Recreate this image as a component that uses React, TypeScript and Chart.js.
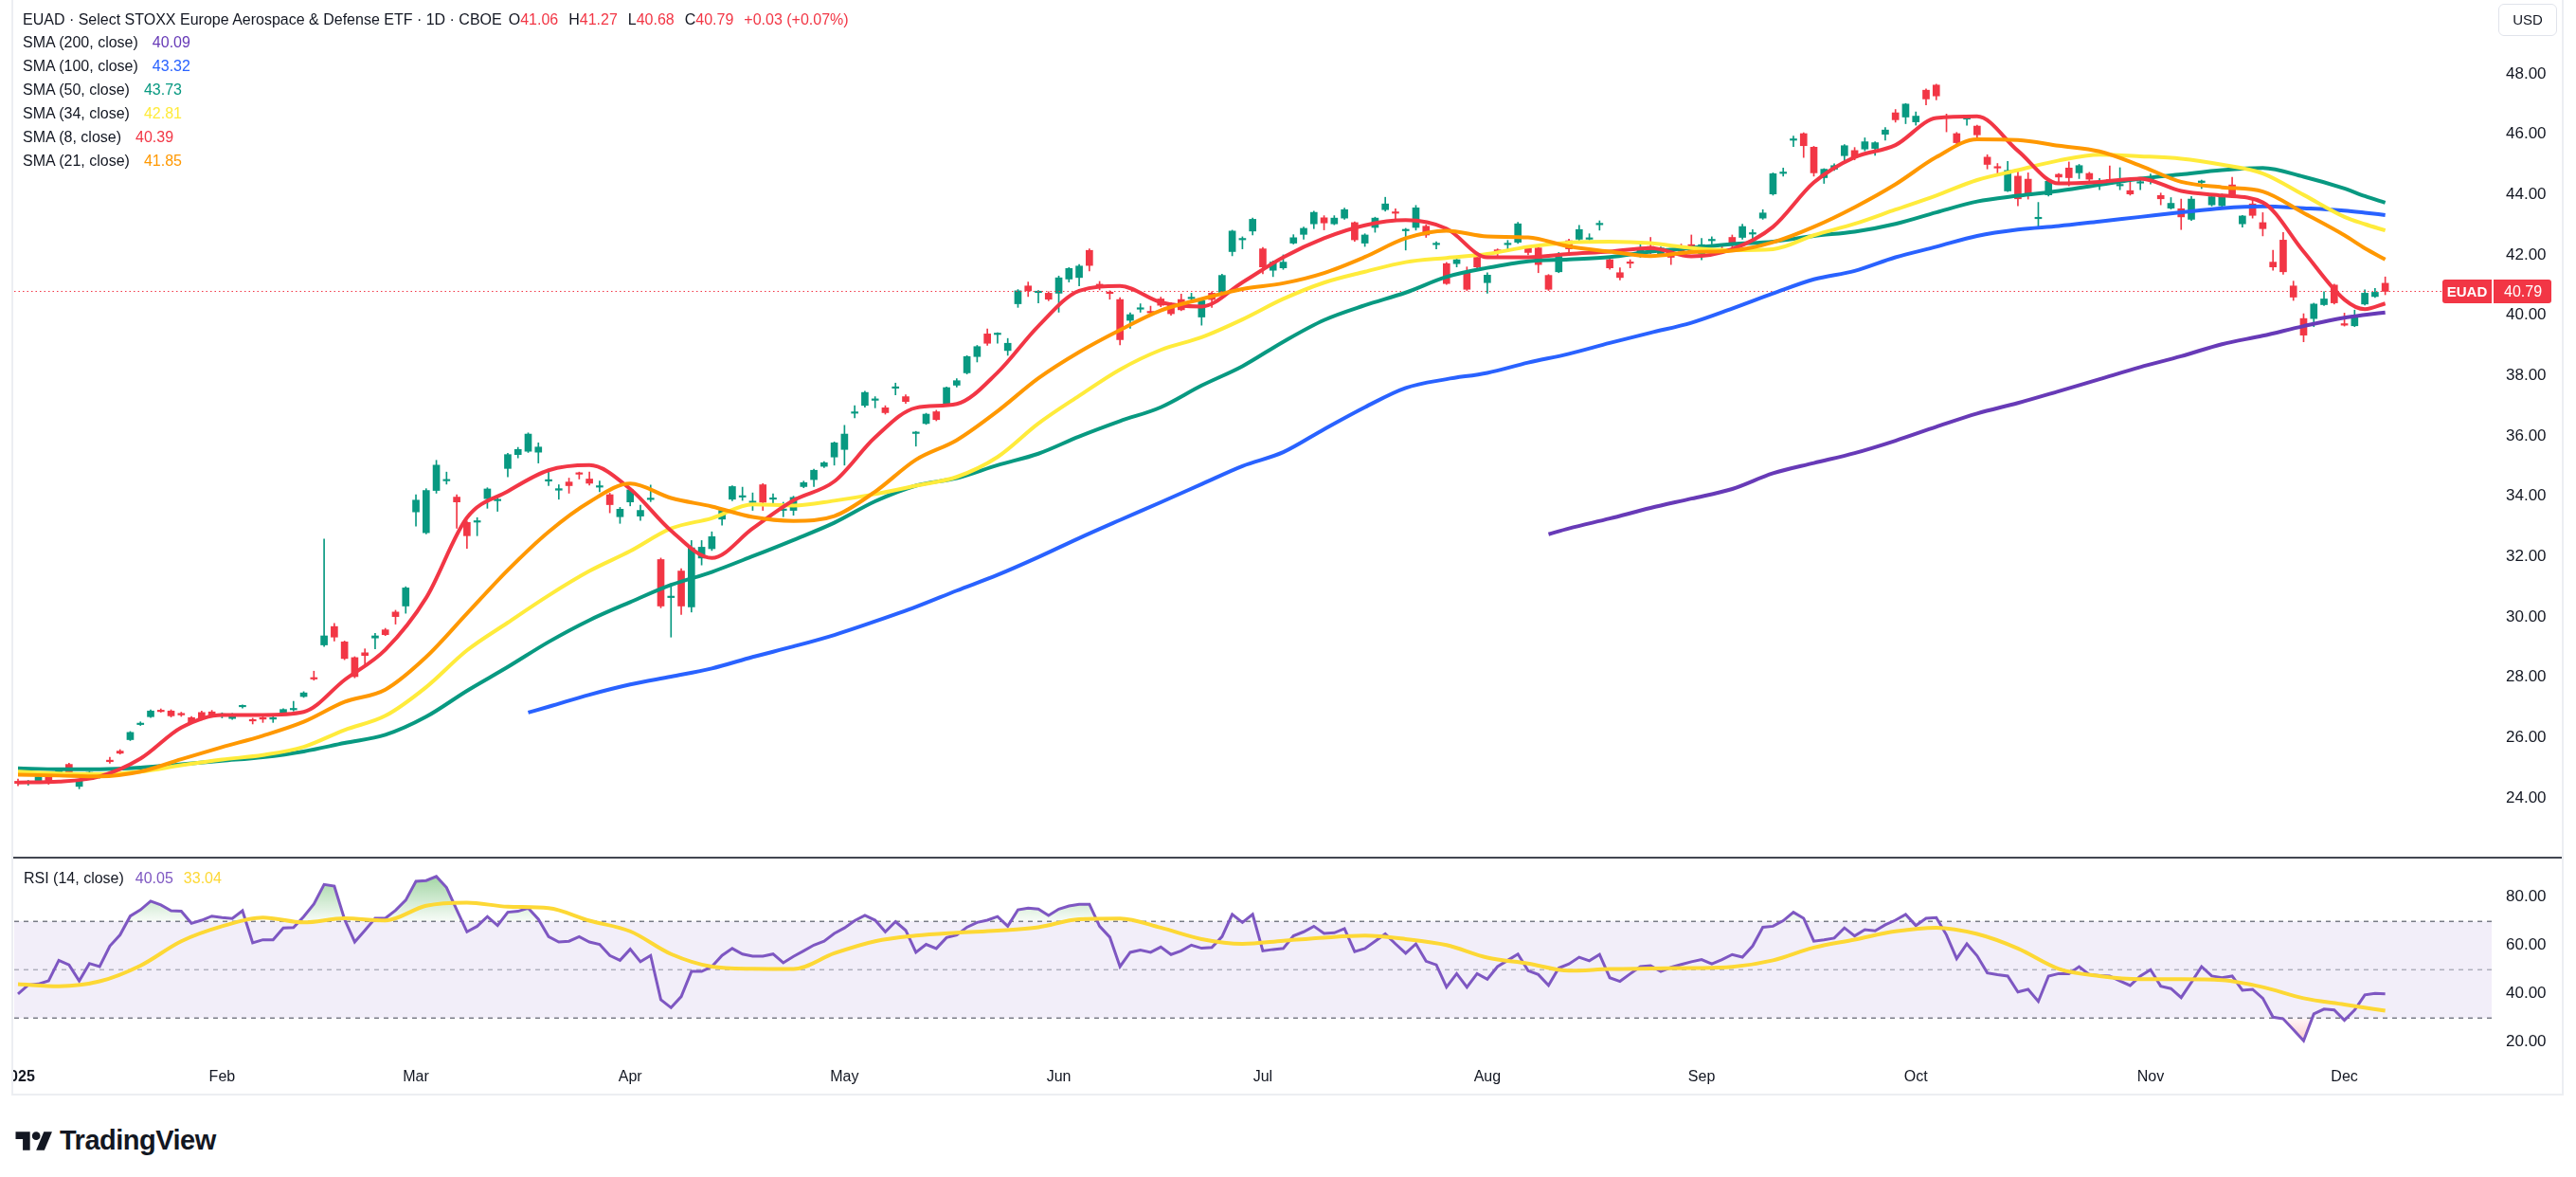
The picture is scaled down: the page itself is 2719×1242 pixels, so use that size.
import React, { useEffect, useRef } from "react";
import { Chart, registerables } from "chart.js";

Chart.register(...registerables);

const FONT = "'Liberation Sans', Arial, sans-serif";
Chart.defaults.font.family = FONT;

// ---------------- data ----------------
const SYMBOL = "EUAD";
const TITLE = "EUAD · Select STOXX Europe Aerospace & Defense ETF · 1D · CBOE";
const MONTH_TICK_INDEX = [0, 20, 39, 60, 81, 102, 122, 144, 165, 186, 209, 228];
const MONTH_TICK_LABELS = ["2025", "Feb", "Mar", "Apr", "May", "Jun", "Jul", "Aug", "Sep", "Oct", "Nov", "Dec"];
const PRICE_TICKS = [24, 26, 28, 30, 32, 34, 36, 38, 40, 42, 44, 46, 48];
const RSI_TICKS = [20, 40, 60, 80];
const RSI_LEVELS = [70, 50, 30];

const OPEN = [
  24.55, 24.48, 24.55, 24.70, 24.85, 25.11, 24.38, 24.80, 24.70, 25.25,
  25.55, 25.93, 26.43, 26.69, 26.90, 26.88, 26.80, 26.66, 26.83, 26.85,
  26.74, 26.63, 27.02, 26.59, 26.65, 26.61, 26.80, 26.92, 27.36, 27.98,
  29.07, 29.68, 29.17, 28.65, 28.81, 29.30, 29.57, 30.16, 30.36, 33.48,
  32.79, 34.19, 34.51, 33.97, 33.13, 33.14, 33.92, 33.85, 34.92, 35.38,
  35.49, 35.46, 34.50, 34.20, 34.47, 34.77, 34.57, 34.30, 34.05, 33.32,
  33.81, 33.34, 33.89, 31.90, 30.64, 31.52, 30.33, 31.95, 32.26, 33.24,
  33.90, 33.97, 33.79, 34.38, 33.90, 33.53, 33.53, 34.32, 34.55, 34.99,
  35.30, 35.55, 36.75, 37.01, 37.18, 36.93, 37.58, 37.30, 36.08, 36.41,
  36.80, 37.04, 37.68, 38.09, 38.63, 39.38, 39.36, 38.83, 40.38, 40.97,
  40.75, 40.73, 40.73, 41.20, 41.25, 42.15, 41.02, 40.76, 40.52, 39.83,
  40.20, 40.12, 40.54, 40.37, 40.52, 40.55, 39.94, 40.73, 40.76, 42.11,
  42.50, 42.79, 42.20, 41.49, 41.57, 42.39, 42.68, 43.03, 43.23, 43.03,
  43.22, 43.07, 42.39, 42.91, 43.50, 43.41, 42.80, 42.91, 42.95, 42.34,
  41.71, 41.71, 41.43, 41.92, 41.08, 42.16, 42.34, 42.42, 42.23, 42.23,
  41.32, 41.44, 42.47, 42.52, 42.52, 43.00, 41.84, 41.41, 41.76, 41.95,
  42.28, 41.99, 42.04, 42.16, 42.34, 42.04, 42.47, 42.16, 42.58, 42.58,
  42.69, 43.22, 44.02, 44.70, 45.80, 46.02, 45.57, 44.56, 44.84, 45.29,
  45.46, 45.51, 45.53, 46.00, 46.71, 46.57, 46.41, 47.46, 47.63, 46.58,
  46.02, 46.50, 46.27, 45.24, 44.92, 44.12, 44.61, 44.51, 43.20, 43.99,
  44.67, 44.88, 44.72, 44.70, 44.39, 44.49, 44.29, 44.13, 44.38, 44.50,
  43.97, 43.55, 43.53, 43.18, 44.40, 43.66, 43.63, 44.32, 43.03, 43.69,
  43.07, 41.76, 42.49, 40.97, 39.89, 39.89, 40.35, 41.00, 39.72, 39.65,
  40.37, 40.62, 41.06,
];
const HIGH = [
  24.62, 24.58, 24.78, 24.75, 24.95, 25.15, 24.62, 24.88, 24.80, 25.35,
  25.60, 26.20, 26.52, 26.92, 26.95, 26.92, 26.84, 26.70, 26.88, 26.90,
  26.82, 26.80, 27.08, 26.64, 26.70, 26.70, 26.96, 27.20, 27.52, 28.20,
  32.58, 29.78, 29.20, 28.68, 28.94, 29.45, 29.62, 30.22, 31.00, 34.05,
  34.25, 35.19, 34.80, 34.05, 33.18, 33.29, 34.28, 34.00, 35.42, 35.62,
  36.10, 35.77, 34.80, 34.38, 34.60, 34.80, 34.80, 34.50, 34.10, 33.63,
  34.25, 33.70, 34.37, 31.95, 31.10, 31.60, 32.53, 32.53, 32.82, 33.60,
  34.35, 34.30, 34.11, 34.42, 34.08, 33.80, 34.00, 34.50, 34.90, 35.15,
  35.80, 36.35, 37.00, 37.48, 37.30, 37.00, 37.75, 37.36, 36.15, 36.75,
  36.85, 37.62, 37.90, 38.66, 39.00, 39.55, 39.42, 39.23, 40.85, 41.10,
  40.82, 40.78, 41.30, 41.58, 41.68, 42.20, 41.12, 40.81, 40.58, 40.08,
  40.38, 40.30, 40.60, 40.42, 40.70, 40.73, 40.52, 40.78, 41.36, 42.82,
  42.60, 43.22, 42.25, 41.80, 42.00, 42.67, 42.92, 43.45, 43.30, 43.30,
  43.55, 43.10, 42.70, 43.25, 43.91, 43.53, 42.88, 43.64, 43.00, 42.44,
  41.75, 41.92, 41.60, 41.96, 41.41, 42.20, 42.48, 43.08, 42.30, 42.28,
  41.35, 42.08, 42.52, 42.98, 42.70, 43.13, 41.88, 41.57, 41.84, 42.36,
  42.58, 42.26, 42.08, 42.36, 42.66, 42.55, 42.60, 42.27, 42.66, 43.02,
  42.84, 43.50, 44.72, 44.88, 45.94, 46.05, 45.60, 44.86, 45.02, 45.66,
  45.56, 45.88, 45.75, 46.22, 46.82, 47.02, 46.74, 47.50, 47.66, 46.67,
  46.06, 46.55, 46.30, 45.32, 45.03, 45.10, 44.85, 44.72, 43.74, 44.53,
  44.70, 45.08, 45.00, 44.74, 44.53, 44.95, 44.89, 44.45, 44.53, 44.68,
  44.05, 43.90, 43.85, 43.94, 44.48, 44.03, 44.02, 44.57, 43.31, 43.90,
  43.40, 42.15, 42.74, 41.13, 40.05, 40.40, 40.78, 41.03, 40.07, 40.17,
  40.84, 40.89, 41.27,
];
const LOW = [
  24.40, 24.42, 24.50, 24.45, 24.80, 24.75, 24.30, 24.76, 24.66, 25.15,
  25.45, 25.90, 26.40, 26.66, 26.84, 26.68, 26.70, 26.46, 26.58, 26.68,
  26.65, 26.60, 26.98, 26.45, 26.50, 26.50, 26.78, 26.88, 27.33, 27.90,
  29.02, 29.20, 28.58, 27.98, 28.38, 28.94, 29.38, 29.76, 30.12, 33.01,
  32.75, 34.10, 34.40, 32.94, 32.27, 32.69, 33.60, 33.50, 34.64, 35.27,
  35.45, 35.10, 34.35, 33.90, 34.10, 34.57, 34.37, 34.15, 33.45, 33.10,
  33.68, 33.20, 33.82, 30.30, 29.33, 30.08, 30.16, 31.72, 32.20, 33.04,
  33.85, 33.86, 33.53, 33.53, 33.70, 33.32, 33.37, 34.28, 34.32, 34.95,
  35.03, 35.03, 36.60, 36.95, 36.93, 36.72, 37.36, 37.08, 35.66, 36.38,
  36.50, 37.00, 37.62, 38.05, 38.45, 39.00, 39.07, 38.67, 40.26, 40.62,
  40.41, 40.48, 40.10, 41.10, 40.97, 41.47, 40.84, 40.53, 39.02, 39.57,
  40.10, 40.04, 40.28, 40.00, 40.15, 40.41, 39.67, 40.26, 40.70, 41.97,
  42.20, 42.66, 41.37, 41.28, 41.52, 42.36, 42.52, 42.87, 42.83, 43.00,
  43.18, 42.45, 42.28, 42.75, 43.45, 43.20, 42.16, 42.82, 42.58, 42.20,
  41.02, 41.60, 40.82, 41.49, 40.73, 41.92, 42.12, 42.38, 42.00, 41.41,
  40.82, 41.41, 42.08, 42.48, 42.39, 42.82, 41.52, 41.17, 41.57, 41.92,
  42.04, 41.95, 41.68, 42.04, 42.04, 41.84, 42.36, 42.04, 42.20, 42.52,
  42.42, 43.18, 43.98, 44.61, 45.59, 45.23, 44.61, 44.37, 44.80, 45.13,
  45.15, 45.45, 45.30, 45.80, 46.40, 46.35, 46.30, 46.97, 47.14, 46.08,
  45.64, 46.30, 45.87, 44.85, 44.64, 44.10, 43.63, 43.85, 42.95, 43.95,
  44.42, 44.29, 44.53, 44.40, 44.16, 44.40, 44.16, 43.98, 44.16, 44.35,
  43.66, 43.52, 42.84, 43.14, 44.20, 43.62, 43.58, 43.95, 42.92, 43.22,
  42.63, 41.49, 41.36, 40.49, 39.12, 39.62, 40.32, 40.37, 39.64, 39.62,
  40.34, 40.59, 40.68,
];
const CLOSE = [
  24.48, 24.52, 24.70, 24.51, 24.89, 24.79, 24.59, 24.83, 24.77, 25.20,
  25.48, 26.17, 26.47, 26.88, 26.86, 26.72, 26.75, 26.49, 26.61, 26.72,
  26.77, 26.75, 27.05, 26.55, 26.61, 26.65, 26.93, 26.95, 27.48, 27.94,
  29.37, 29.33, 28.62, 28.02, 28.72, 29.37, 29.41, 30.01, 30.96, 33.87,
  34.19, 35.03, 34.55, 33.81, 32.69, 33.18, 34.24, 33.88, 35.38, 35.55,
  36.06, 35.63, 34.55, 34.25, 34.35, 34.73, 34.43, 34.33, 33.72, 33.57,
  34.21, 33.53, 33.92, 30.36, 30.68, 30.36, 32.29, 32.31, 32.66, 33.53,
  34.32, 34.00, 33.82, 33.80, 33.93, 33.56, 33.96, 34.45, 34.86, 35.11,
  35.77, 36.06, 36.78, 37.44, 37.21, 36.77, 37.62, 37.14, 36.11, 36.72,
  36.54, 37.60, 37.83, 38.63, 38.96, 39.07, 39.39, 39.07, 40.81, 40.81,
  40.78, 40.53, 41.24, 41.55, 41.63, 41.65, 40.98, 40.72, 39.19, 40.02,
  40.23, 40.08, 40.33, 40.05, 40.18, 40.58, 40.48, 40.52, 41.32, 42.79,
  42.53, 43.18, 41.60, 41.76, 41.76, 42.57, 42.88, 43.41, 43.06, 43.22,
  43.50, 42.50, 42.66, 43.22, 43.69, 43.38, 42.84, 43.56, 42.66, 42.38,
  41.05, 41.84, 40.86, 41.60, 41.33, 42.12, 42.38, 43.03, 42.08, 41.68,
  40.86, 41.95, 42.20, 42.84, 42.55, 43.03, 41.57, 41.25, 41.72, 42.20,
  42.08, 42.23, 41.92, 42.12, 42.11, 42.34, 42.50, 42.12, 42.31, 42.94,
  42.72, 43.39, 44.69, 44.74, 45.84, 45.62, 44.72, 44.84, 44.96, 45.62,
  45.24, 45.75, 45.72, 46.14, 46.48, 47.00, 46.60, 47.17, 47.27, 46.54,
  45.72, 46.53, 45.98, 45.00, 44.88, 44.80, 43.86, 43.97, 43.23, 44.44,
  44.58, 44.56, 44.96, 44.51, 44.42, 44.45, 44.33, 44.02, 44.42, 44.53,
  43.86, 43.71, 43.26, 43.85, 44.45, 43.93, 44.00, 43.97, 43.29, 43.31,
  42.87, 41.60, 41.44, 40.60, 39.34, 40.37, 40.54, 40.41, 39.67, 39.99,
  40.73, 40.76, 40.79,
];

// moving averages, read at these bar indices
const SMA_X = [
  0, 4, 8, 12, 16, 20, 24, 28, 32, 36, 40, 44, 48, 52, 56, 60, 64, 68, 72, 76,
  80, 84, 88, 92, 96, 100, 104, 108, 112, 116, 120, 124, 128, 132, 136, 140, 144, 148, 152, 156,
  160, 164, 168, 172, 176, 180, 184, 188, 192, 196, 200, 204, 208, 212, 216, 220, 224, 228, 230, 232,
];
const SMA8 = [
  24.51, 24.54, 24.71, 25.30, 26.33, 26.75, 26.75, 26.85, 27.91, 28.91,
  30.63, 33.29, 34.16, 34.86, 35.03, 34.24, 32.86, 31.95, 32.93, 33.86,
  34.49, 35.95, 36.93, 37.06, 38.10, 39.64, 40.81, 40.97, 40.43, 40.29,
  41.09, 41.92, 42.55, 42.98, 43.15, 42.87, 41.92, 41.92, 42.03, 42.11,
  42.23, 41.95, 42.19, 42.93, 44.40, 45.24, 45.64, 46.54, 46.59, 45.45,
  44.37, 44.42, 44.53, 44.12, 43.97, 43.74, 42.11, 40.52, 40.20, 40.39,
];
const SMA21 = [
  24.77, 24.74, 24.71, 24.87, 25.28, 25.68, 26.06, 26.52, 27.18, 27.59,
  28.67, 30.11, 31.55, 32.82, 33.81, 34.42, 33.94, 33.66, 33.31, 33.18,
  33.34, 34.15, 35.21, 35.86, 36.82, 37.91, 38.78, 39.51, 40.16, 40.54,
  40.87, 41.06, 41.40, 41.93, 42.55, 42.80, 42.61, 42.58, 42.28, 42.11,
  41.96, 42.09, 42.14, 42.42, 42.93, 43.58, 44.34, 45.24, 45.83, 45.81,
  45.62, 45.43, 44.96, 44.42, 44.24, 44.10, 43.39, 42.65, 42.22, 41.85,
];
const SMA34 = [
  24.87, 24.81, 24.79, 24.87, 25.08, 25.27, 25.42, 25.69, 26.25, 26.72,
  27.67, 28.89, 29.81, 30.71, 31.52, 32.18, 32.93, 33.27, 33.73, 33.69,
  33.85, 34.07, 34.35, 34.64, 35.30, 36.41, 37.33, 38.20, 38.85, 39.27,
  39.86, 40.54, 41.08, 41.44, 41.76, 41.90, 42.03, 42.27, 42.41, 42.44,
  42.39, 42.23, 42.16, 42.19, 42.65, 43.03, 43.50, 43.97, 44.48, 44.81,
  45.13, 45.32, 45.27, 45.19, 44.99, 44.70, 43.99, 43.26, 43.02, 42.81,
];
const SMA50 = [
  24.98, 24.95, 24.95, 25.00, 25.11, 25.23, 25.35, 25.54, 25.82, 26.09,
  26.69, 27.55, 28.34, 29.17, 29.89, 30.49, 31.06, 31.49, 32.01, 32.55,
  33.12, 33.83, 34.35, 34.60, 35.03, 35.41, 35.98, 36.49, 36.95, 37.67,
  38.31, 39.12, 39.84, 40.33, 40.75, 41.27, 41.57, 41.79, 41.85, 41.93,
  42.11, 42.23, 42.36, 42.44, 42.63, 42.77, 43.03, 43.41, 43.77, 43.96,
  44.12, 44.32, 44.53, 44.67, 44.81, 44.88, 44.59, 44.20, 43.95, 43.73,
];
const SMA100_X = [
  50, 52, 56, 60, 64, 68, 72, 76, 80, 84, 88, 92, 96, 100, 104, 108, 112, 116, 120, 124,
  128, 132, 136, 140, 144, 148, 152, 156, 160, 164, 168, 172, 176, 180, 184, 188, 192, 196, 200, 204,
  208, 212, 216, 220, 224, 228, 230, 232,
];
const SMA100 = [
  26.83, 27.02, 27.42, 27.76, 28.02, 28.29, 28.67, 29.02, 29.40, 29.85,
  30.33, 30.87, 31.39, 31.98, 32.61, 33.21, 33.80, 34.40, 35.00, 35.46,
  36.22, 36.95, 37.59, 37.88, 38.09, 38.43, 38.72, 39.08, 39.42, 39.75,
  40.22, 40.72, 41.19, 41.47, 41.92, 42.27, 42.63, 42.84, 42.96, 43.11,
  43.26, 43.41, 43.55, 43.61, 43.55, 43.47, 43.40, 43.32,
];
const SMA200_X = [
  150, 152, 156, 160, 164, 168, 172, 176, 180, 184, 188, 192, 196, 200, 204, 208, 212, 216, 220, 224,
  228, 230, 232,
];
const SMA200 = [
  32.74, 32.93, 33.26, 33.61, 33.92, 34.24, 34.76, 35.10, 35.43, 35.84,
  36.30, 36.74, 37.09, 37.48, 37.88, 38.28, 38.64, 39.04, 39.32, 39.64,
  39.92, 40.01, 40.09,
];

// RSI (14) per bar and its moving average
const RSI = [
  40.0, 43.7, 44.1, 45.4, 53.9, 52.0, 45.4, 52.6, 51.3, 59.8,
  64.4, 72.2, 74.8, 78.4, 76.8, 74.4, 74.2, 69.2, 70.5, 72.2,
  71.6, 71.2, 74.4, 61.1, 62.4, 62.4, 67.3, 67.5, 72.0, 77.2,
  85.3, 84.6, 70.9, 61.5, 66.3, 71.3, 71.3, 74.6, 78.8, 86.6,
  86.9, 88.6, 84.0, 74.8, 65.7, 68.0, 72.0, 68.3, 73.8, 74.2,
  75.5, 70.9, 63.7, 61.5, 61.8, 63.7, 61.5, 60.5, 55.9, 53.9,
  58.5, 53.3, 55.9, 37.6, 34.3, 38.9, 49.3, 49.3, 51.3, 55.9,
  58.8, 56.5, 55.6, 55.6, 56.5, 52.9, 55.5, 57.8, 60.2, 61.8,
  65.0, 67.3, 70.3, 72.5, 70.5, 65.7, 69.9, 66.3, 57.2, 60.5,
  58.8, 63.3, 64.4, 67.6, 69.6, 70.5, 72.0, 68.0, 74.8, 75.5,
  75.1, 72.5, 75.1, 76.4, 77.1, 77.1, 68.0, 63.5, 51.3, 57.2,
  58.1, 57.2, 59.4, 56.3, 57.8, 60.2, 58.9, 59.2, 63.7, 72.9,
  69.6, 72.9, 57.8, 58.4, 58.8, 64.0, 65.7, 68.0, 65.0, 65.3,
  67.0, 57.5, 58.8, 61.8, 64.8, 60.7, 56.8, 60.7, 53.5, 52.0,
  42.8, 48.4, 42.8, 48.4, 46.1, 51.3, 53.9, 56.5, 49.6, 48.0,
  43.5, 50.7, 52.4, 55.2, 53.7, 56.3, 46.7, 45.2, 48.3, 51.3,
  51.7, 49.3, 51.0, 52.2, 53.3, 54.2, 52.4, 54.2, 56.3, 55.2,
  59.8, 67.6, 68.0, 70.3, 73.8, 71.3, 61.8, 62.4, 63.1, 67.3,
  64.0, 66.6, 66.1, 68.6, 70.5, 72.9, 68.3, 71.3, 71.6, 64.4,
  54.6, 60.7, 55.8, 48.7, 48.0, 47.4, 40.8, 41.9, 36.9, 47.4,
  48.4, 48.4, 51.3, 48.0, 47.6, 47.4, 45.4, 43.5, 47.4, 50.0,
  43.2, 42.2, 38.5, 44.8, 51.3, 47.4, 46.7, 47.4, 41.5, 41.9,
  38.2, 30.4, 29.7, 25.2, 20.6, 31.7, 33.7, 33.4, 29.1, 33.3,
  39.6, 40.2, 40.05,
];
const RSI_MA_X = [
  0, 4, 8, 12, 16, 20, 24, 28, 32, 36, 40, 44, 48, 52, 56, 60, 64, 68, 72, 76,
  80, 84, 88, 92, 96, 100, 104, 108, 112, 116, 120, 124, 128, 132, 136, 140, 144, 148, 152, 156,
  160, 164, 168, 172, 176, 180, 184, 188, 192, 196, 200, 204, 208, 212, 216, 220, 224, 228, 232,
];
const RSI_MA = [
  44.0, 43.2, 45.2, 51.7, 61.8, 68.0, 71.6, 69.6, 71.3, 70.4,
  76.5, 77.8, 76.1, 75.5, 70.3, 65.9, 56.5, 51.3, 50.4, 50.3,
  56.8, 61.8, 64.1, 65.3, 66.2, 67.6, 70.9, 71.2, 67.4, 62.7,
  60.7, 62.0, 63.3, 64.1, 62.7, 60.2, 55.0, 52.6, 49.6, 50.3,
  50.5, 50.7, 51.2, 53.9, 59.2, 62.5, 65.9, 67.4, 64.8, 58.8,
  50.4, 47.4, 46.1, 46.1, 45.7, 42.8, 38.2, 35.6, 33.04,
];

// ---------------- layout & style ----------------
const W = 2719;
const H = 1242;
const MAIN_H = 904;
const RSI_TOP = 906;
const RSI_H = 249;
const TIME_AXIS_H = 35;
const PLOT_LEFT = 15;
const PLOT_RIGHT = 2630;
const AXIS_W = 74;
const FIRST_BAR_PX = 19;
const BAR_STEP_PX = 10.77;
const X_MIN = (PLOT_LEFT - FIRST_BAR_PX) / BAR_STEP_PX;
const X_MAX = (PLOT_RIGHT - FIRST_BAR_PX) / BAR_STEP_PX;
const PRICE_MIN = 22.05;
const PRICE_MAX = 50.45;
const RSI_MIN = 12.08;
const RSI_MAX = 96.0;

const UP = "#089981";
const DOWN = "#F23645";
const TEXT = "#131722";
const C_SMA200 = "#673AB7";
const C_SMA100 = "#2962FF";
const C_SMA50 = "#089981";
const C_SMA34 = "#FFEB3B";
const C_SMA8 = "#F23645";
const C_SMA21 = "#FF9800";
const C_RSI = "#7E57C2";
const C_RSI_MA = "#FDD835";

const last = (a: number[]) => a[a.length - 1];
const pts = (xs: number[], ys: number[]) => xs.map((x, k) => ({ x, y: ys[k] }));
const BARS = CLOSE.map((_, i) => i);

function smaLine(label: string, xs: number[], ys: number[], color: string, order: number) {
  return {
    type: "line" as const,
    label,
    data: pts(xs, ys),
    borderColor: color,
    borderWidth: 4,
    pointRadius: 0,
    cubicInterpolationMode: "monotone" as const,
    fill: false,
    order,
  };
}

const lastPricePlugin = {
  id: "lastPrice",
  afterDraw(chart: any) {
    const { ctx, chartArea, scales } = chart;
    const price = last(CLOSE);
    const y = scales.y.getPixelForValue(price);
    const h = 25;
    const top = Math.round(y - h / 2);
    ctx.save();
    ctx.fillStyle = DOWN;
    ctx.beginPath();
    ctx.roundRect(chartArea.right - 52, top, 52, h, [3, 0, 0, 3]);
    ctx.fill();
    ctx.beginPath();
    ctx.roundRect(chartArea.right + 2, top, 61, h, [0, 3, 3, 0]);
    ctx.fill();
    ctx.fillStyle = "#ffffff";
    ctx.textBaseline = "middle";
    ctx.textAlign = "center";
    ctx.font = `bold 15px ${FONT}`;
    ctx.fillText(SYMBOL, chartArea.right - 26, y + 1);
    ctx.textAlign = "left";
    ctx.font = `16px ${FONT}`;
    ctx.fillText(price.toFixed(2), chartArea.right + 13, y + 1);
    ctx.restore();
  },
};

function mainConfig(): any {
  const colors = BARS.map((i) => (CLOSE[i] >= OPEN[i] ? UP : DOWN));
  return {
    type: "bar",
    data: {
      datasets: [
        smaLine("SMA 21", SMA_X, SMA21, C_SMA21, 1),
        smaLine("SMA 8", SMA_X, SMA8, C_SMA8, 2),
        smaLine("SMA 34", SMA_X, SMA34, C_SMA34, 3),
        smaLine("SMA 50", SMA_X, SMA50, C_SMA50, 4),
        smaLine("SMA 100", SMA100_X, SMA100, C_SMA100, 5),
        smaLine("SMA 200", SMA200_X, SMA200, C_SMA200, 6),
        {
          type: "line",
          label: "last",
          data: [
            { x: X_MIN, y: last(CLOSE) },
            { x: X_MAX, y: last(CLOSE) },
          ],
          borderColor: DOWN,
          borderWidth: 1,
          borderDash: [1.5, 3],
          pointRadius: 0,
          order: 7,
        },
        {
          type: "bar",
          label: "body",
          data: BARS.map((i) => ({ x: i, y: [OPEN[i], CLOSE[i]] })),
          backgroundColor: colors,
          barThickness: 7,
          minBarLength: 1.5,
          grouped: false,
          borderWidth: 0,
          order: 8,
        },
        {
          type: "bar",
          label: "wick",
          data: BARS.map((i) => ({ x: i, y: [LOW[i], HIGH[i]] })),
          backgroundColor: colors,
          barThickness: 1,
          grouped: false,
          borderWidth: 0,
          order: 9,
        },
      ],
    },
    options: {
      animation: false,
      responsive: false,
      devicePixelRatio: 1,
      events: [],
      layout: { padding: { left: PLOT_LEFT, right: W - PLOT_RIGHT - AXIS_W, top: 0, bottom: 0 } },
      plugins: { legend: { display: false }, tooltip: { enabled: false } },
      scales: {
        x: { type: "linear", min: X_MIN, max: X_MAX, display: false, offset: false },
        y: {
          type: "linear",
          position: "right",
          min: PRICE_MIN,
          max: PRICE_MAX,
          grid: { display: false, drawTicks: false },
          border: { display: false },
          ticks: { padding: 15, color: TEXT, font: { size: 17 }, callback: (v: any) => Number(v).toFixed(2) },
          afterBuildTicks: (s: any) => {
            s.ticks = PRICE_TICKS.map((v) => ({ value: v }));
          },
          afterFit: (s: any) => {
            s.width = AXIS_W;
            s.paddingTop = 0;
            s.paddingBottom = 0;
          },
        },
      },
    },
    plugins: [lastPricePlugin],
  };
}

function levelLine(value: number, color: string, order: number, fill: any) {
  return {
    label: "level " + value,
    data: [
      { x: X_MIN, y: value },
      { x: X_MAX, y: value },
    ],
    borderColor: color,
    borderWidth: 1.5,
    borderDash: [5, 5],
    pointRadius: 0,
    fill,
    order,
  };
}

function rsiConfig(canvas: HTMLCanvasElement): any {
  const ctx = canvas.getContext("2d")!;
  const plotH = RSI_H - TIME_AXIS_H;
  const pix = (v: number) => ((RSI_MAX - v) / (RSI_MAX - RSI_MIN)) * plotH;
  const green = ctx.createLinearGradient(0, pix(90), 0, pix(RSI_LEVELS[0]));
  green.addColorStop(0, "rgba(76,175,80,0.55)");
  green.addColorStop(1, "rgba(76,175,80,0.04)");
  const red = ctx.createLinearGradient(0, pix(RSI_LEVELS[2]), 0, pix(15));
  red.addColorStop(0, "rgba(242,54,69,0.04)");
  red.addColorStop(1, "rgba(242,54,69,0.4)");
  return {
    type: "line",
    data: {
      datasets: [
        {
          label: "RSI MA",
          data: pts(RSI_MA_X, RSI_MA),
          borderColor: C_RSI_MA,
          borderWidth: 4,
          pointRadius: 0,
          cubicInterpolationMode: "monotone",
          order: 0,
        },
        {
          label: "RSI",
          data: pts(BARS, RSI),
          borderColor: C_RSI,
          borderWidth: 3,
          pointRadius: 0,
          tension: 0,
          fill: { target: { value: RSI_LEVELS[0] }, above: green, below: "rgba(0,0,0,0)" },
          order: 1,
        },
        {
          label: "RSI oversold",
          data: pts(BARS, RSI),
          borderWidth: 0,
          borderColor: "rgba(0,0,0,0)",
          pointRadius: 0,
          tension: 0,
          fill: { target: { value: RSI_LEVELS[2] }, above: "rgba(0,0,0,0)", below: red },
          order: 2,
        },
        levelLine(RSI_LEVELS[1], "rgba(120,123,134,0.55)", 3, false),
        levelLine(RSI_LEVELS[2], "#787B86", 3, false),
        levelLine(RSI_LEVELS[0], "#787B86", 4, {
          target: { value: RSI_LEVELS[2] },
          above: "rgba(126,87,194,0.1)",
          below: "rgba(126,87,194,0.1)",
        }),
      ],
    },
    options: {
      animation: false,
      responsive: false,
      devicePixelRatio: 1,
      events: [],
      layout: { padding: { left: PLOT_LEFT, right: W - PLOT_RIGHT - AXIS_W, top: 0, bottom: 0 } },
      plugins: { legend: { display: false }, tooltip: { enabled: false } },
      scales: {
        x: {
          type: "linear",
          min: X_MIN,
          max: X_MAX,
          offset: false,
          grid: { display: false, drawTicks: false },
          border: { display: false },
          ticks: {
            padding: 7,
            color: TEXT,
            maxRotation: 0,
            autoSkip: false,
            font: (c: any) => ({ size: 16, weight: c.index === 0 ? "bold" : "normal" }),
            callback: (_v: any, i: number) => MONTH_TICK_LABELS[i],
          },
          afterBuildTicks: (s: any) => {
            s.ticks = MONTH_TICK_INDEX.map((v) => ({ value: v }));
          },
          afterFit: (s: any) => {
            s.height = TIME_AXIS_H;
            s.paddingLeft = 0;
            s.paddingRight = 0;
          },
        },
        y: {
          type: "linear",
          position: "right",
          min: RSI_MIN,
          max: RSI_MAX,
          grid: { display: false, drawTicks: false },
          border: { display: false },
          ticks: { padding: 15, color: TEXT, font: { size: 17 }, callback: (v: any) => Number(v).toFixed(2) },
          afterBuildTicks: (s: any) => {
            s.ticks = RSI_TICKS.map((v) => ({ value: v }));
          },
          afterFit: (s: any) => {
            s.width = AXIS_W;
            s.paddingTop = 0;
            s.paddingBottom = 0;
          },
        },
      },
    },
  };
}

const SMA_LEGEND: [string, number[], string][] = [
  ["SMA (200, close)", SMA200, C_SMA200],
  ["SMA (100, close)", SMA100, C_SMA100],
  ["SMA (50, close)", SMA50, C_SMA50],
  ["SMA (34, close)", SMA34, C_SMA34],
  ["SMA (8, close)", SMA8, C_SMA8],
  ["SMA (21, close)", SMA21, C_SMA21],
];

export default function App() {
  const mainRef = useRef<HTMLCanvasElement>(null);
  const rsiRef = useRef<HTMLCanvasElement>(null);

  useEffect(() => {
    const main = new Chart(mainRef.current!, mainConfig());
    const rsi = new Chart(rsiRef.current!, rsiConfig(rsiRef.current!));
    return () => {
      main.destroy();
      rsi.destroy();
    };
  }, []);

  const n = CLOSE.length;
  const chg = CLOSE[n - 1] - CLOSE[n - 2];
  const pct = (chg / CLOSE[n - 2]) * 100;
  const sign = chg >= 0 ? "+" : "−";
  const ohlcColor = CLOSE[n - 1] >= OPEN[n - 1] ? UP : DOWN;

  const lineStyle: React.CSSProperties = {
    position: "absolute",
    left: 24,
    height: 25,
    lineHeight: "25px",
    fontSize: 16,
    whiteSpace: "pre",
    color: TEXT,
  };

  return (
    <div
      style={{
        position: "absolute",
        left: 0,
        top: 0,
        width: W,
        height: H,
        background: "#ffffff",
        overflow: "hidden",
        fontFamily: FONT,
        color: TEXT,
      }}
    >
      <canvas ref={mainRef} width={W} height={MAIN_H} style={{ position: "absolute", left: 0, top: 0, width: W, height: MAIN_H }} />
      <canvas ref={rsiRef} width={W} height={RSI_H} style={{ position: "absolute", left: 0, top: RSI_TOP, width: W, height: RSI_H }} />

      {/* frame */}
      <div style={{ position: "absolute", left: 0, top: RSI_TOP + RSI_H - TIME_AXIS_H, width: 13, height: TIME_AXIS_H, background: "#fff" }} />
      <div style={{ position: "absolute", left: 13, top: MAIN_H, width: 2691, height: 2, background: "#434651" }} />
      <div style={{ position: "absolute", left: 12, top: 0, width: 2, height: 1156, background: "#eceef2" }} />
      <div style={{ position: "absolute", left: 2704, top: 0, width: 2, height: 1156, background: "#eceef2" }} />
      <div style={{ position: "absolute", left: 12, top: 1154, width: 2694, height: 2, background: "#eceef2" }} />

      {/* header legend */}
      <div style={{ ...lineStyle, top: 8 }}>
        <span>{TITLE}</span>
        <span style={{ marginLeft: 7 }}>O</span>
        <span style={{ color: ohlcColor }}>{OPEN[n - 1].toFixed(2)}</span>
        <span style={{ marginLeft: 11 }}>H</span>
        <span style={{ color: ohlcColor }}>{HIGH[n - 1].toFixed(2)}</span>
        <span style={{ marginLeft: 11 }}>L</span>
        <span style={{ color: ohlcColor }}>{LOW[n - 1].toFixed(2)}</span>
        <span style={{ marginLeft: 11 }}>C</span>
        <span style={{ color: ohlcColor }}>{CLOSE[n - 1].toFixed(2)}</span>
        <span style={{ marginLeft: 11, color: ohlcColor }}>
          {`${sign}${Math.abs(chg).toFixed(2)} (${sign}${Math.abs(pct).toFixed(2)}%)`}
        </span>
      </div>
      {SMA_LEGEND.map(([label, arr, color], k) => (
        <div key={label} style={{ ...lineStyle, top: 32 + k * 25 }}>
          <span>{label}</span>
          <span style={{ marginLeft: 15, color }}>{last(arr).toFixed(2)}</span>
        </div>
      ))}

      {/* RSI legend */}
      <div style={{ ...lineStyle, left: 25, top: 914 }}>
        <span>RSI (14, close)</span>
        <span style={{ marginLeft: 12, color: C_RSI }}>{last(RSI).toFixed(2)}</span>
        <span style={{ marginLeft: 11, color: C_RSI_MA }}>{last(RSI_MA).toFixed(2)}</span>
      </div>

      {/* currency button */}
      <div
        style={{
          position: "absolute",
          left: 2637,
          top: 4,
          width: 62,
          height: 34,
          border: "1px solid #e0e3eb",
          borderRadius: 6,
          boxSizing: "border-box",
          fontSize: 15,
          lineHeight: "32px",
          textAlign: "center",
          color: TEXT,
        }}
      >
        USD
      </div>

      {/* logo */}
      <svg style={{ position: "absolute", left: 16, top: 1190 }} width="40" height="26" viewBox="0 0 36 24">
        <path d="M14 22H7V11H0V4h14v18z" fill={TEXT} />
        <circle cx="20" cy="8" r="4" fill={TEXT} />
        <path d="M28 22h-8l7.5-18h8L28 22z" fill={TEXT} />
      </svg>
      <div
        style={{
          position: "absolute",
          left: 63,
          top: 1185,
          height: 36,
          lineHeight: "36px",
          fontSize: 29,
          fontWeight: 700,
          letterSpacing: -0.5,
          color: TEXT,
        }}
      >
        TradingView
      </div>
    </div>
  );
}
